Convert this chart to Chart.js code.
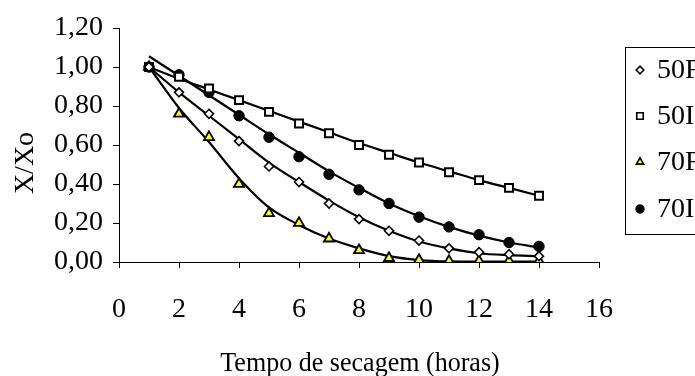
<!DOCTYPE html>
<html><head><meta charset="utf-8">
<script src="https://cdn.jsdelivr.net/npm/chart.js@4"></script>
<style>html,body{margin:0;padding:0;background:#fff;overflow:hidden}canvas{display:block}</style>
</head><body>
<canvas id="c" width="695" height="376"></canvas>
<script>
// ---- data ----
const hours = [1,2,3,4,5,6,7,8,9,10,11,12,13,14];
const s50F = [1.00,0.87,0.76,0.62,0.49,0.41,0.30,0.22,0.16,0.11,0.07,0.05,0.04,0.03];
const s50I = [1.00,0.95,0.89,0.83,0.77,0.71,0.66,0.60,0.55,0.51,0.46,0.42,0.38,0.34];
const s70F = [1.00,0.76,0.64,0.40,0.25,0.20,0.12,0.06,0.02,0.01,0.005,0.005,0.005,0.005];
const s70I = [1.00,0.96,0.87,0.75,0.64,0.54,0.45,0.37,0.30,0.23,0.18,0.14,0.10,0.08];
// fitted curves
const t50F = [1.00,0.87,0.75,0.63,0.51,0.41,0.315,0.23,0.16,0.105,0.07,0.045,0.035,0.03];
const t50I = [1.00,0.94,0.885,0.83,0.775,0.72,0.665,0.61,0.56,0.51,0.465,0.42,0.38,0.34];
const t70F = [1.00,0.79,0.615,0.43,0.28,0.19,0.12,0.07,0.03,0.01,0.003,0.002,0.002,0.002];
const t70I = [1.055,0.955,0.855,0.755,0.655,0.56,0.465,0.38,0.30,0.235,0.18,0.135,0.10,0.075];
const seriesNames = ['50F','50I','70F','70I'];
const xTickLabels = ['0','2','4','6','8','10','12','14','16'];
const yTickLabels = ['0,00','0,20','0,40','0,60','0,80','1,00','1,20'];
const xTitle = 'Tempo de secagem (horas)';
const yTitle = 'X/Xo';

const FONT = "'Liberation Serif','Times New Roman',serif";
const pts = arr => hours.map((h,i)=>({x:h,y:arr[i]}));

const markerStyles = [
  {pointStyle:'rectRot', radius:4.5, bg:'#fff', bw:1.6},
  {pointStyle:'rect', radius:5.6, bg:'#fff', bw:2},
  {pointStyle:'triangle', radius:5.8, bg:'#ffff00', bw:1.8},
  {pointStyle:'circle', radius:5.2, bg:'#000', bw:1}
];
const seriesData = [s50F,s50I,s70F,s70I];
const trendData = [t50F,t50I,t70F,t70I];

const datasets = [];
trendData.forEach((t,i)=>{
  datasets.push({type:'line', label:'trend'+seriesNames[i], data:pts(t), showLine:true,
    borderColor:'#000', borderWidth:2.2, pointRadius:0, fill:false,
    cubicInterpolationMode:'monotone', order:2});
});
seriesData.forEach((s,i)=>{
  const m = markerStyles[i];
  datasets.push({type:'scatter', label:seriesNames[i], data:pts(s),
    pointStyle:m.pointStyle, pointRadius:m.radius, pointHoverRadius:m.radius,
    backgroundColor:m.bg, borderColor:'#000', pointBorderWidth:m.bw, borderWidth:m.bw, order:1});
});

function drawMarker(ctx, style, x, y, r){
  ctx.beginPath();
  if(style==='rectRot'){ctx.moveTo(x-r,y);ctx.lineTo(x,y-r);ctx.lineTo(x+r,y);ctx.lineTo(x,y+r);ctx.closePath();}
  else if(style==='rect'){const s=r*Math.SQRT1_2;ctx.rect(x-s,y-s,2*s,2*s);}
  else if(style==='triangle'){ctx.moveTo(x-r*0.866,y+r*0.5);ctx.lineTo(x,y-r);ctx.lineTo(x+r*0.866,y+r*0.5);ctx.closePath();}
  else {ctx.arc(x,y,r,0,Math.PI*2);}
  ctx.fill(); ctx.stroke();
}

const extras = {
  id:'extras',
  afterDraw(chart){
    const ctx = chart.ctx;
    ctx.save();
    // axis titles
    ctx.fillStyle='#000';
    ctx.font = "28px "+FONT;
    ctx.textAlign='center'; ctx.textBaseline='alphabetic';
    ctx.save();
    ctx.translate(360,371); ctx.scale(0.93,1);
    ctx.fillText(xTitle, 0, 0);
    ctx.restore();
    ctx.save();
    ctx.translate(33,163); ctx.rotate(-Math.PI/2);
    ctx.fillText(yTitle, 0, 0);
    ctx.restore();
    // legend
    ctx.strokeStyle='#000'; ctx.lineWidth=1;
    ctx.strokeRect(625.5,47.5,120,187);
    const ys=[70,116,162,209];
    const lr=[3.8,4.6,4.2,4.2];
    seriesNames.forEach((n,i)=>{
      const m=markerStyles[i];
      ctx.fillStyle=m.bg; ctx.strokeStyle='#000'; ctx.lineWidth=i===3?1:1.6;
      drawMarker(ctx,m.pointStyle,640,ys[i],lr[i]);
      ctx.fillStyle='#000';
      ctx.font="28px "+FONT; ctx.textAlign='left'; ctx.textBaseline='middle';
      ctx.fillText(n,657,ys[i]+1);
    });
    ctx.restore();
  }
};

new Chart(document.getElementById('c'), {
  data:{datasets},
  options:{
    responsive:false, animation:false, devicePixelRatio:1,
    layout:{padding:{left:0,right:96,top:28,bottom:0}},
    plugins:{legend:{display:false}, tooltip:{enabled:false}},
    scales:{
      x:{type:'linear', min:0, max:16,
        ticks:{stepSize:2, color:'#000', font:{family:FONT,size:28}, padding:25,
          callback:(v)=>xTickLabels[Math.round(v/2)]},
        grid:{drawOnChartArea:false, drawTicks:true, tickLength:6, color:'#000', lineWidth:1},
        border:{display:true,color:'#000',width:1},
        afterFit:(s)=>{s.height=114;}
      },
      y:{type:'linear', min:0, max:1.2,
        ticks:{stepSize:0.2, color:'#000', font:{family:FONT,size:28}, padding:10,
          callback:(v)=>yTickLabels[Math.round(v/0.2)]},
        grid:{drawOnChartArea:false, drawTicks:true, tickLength:6, color:'#000', lineWidth:1},
        border:{display:true,color:'#000',width:1},
        afterFit:(s)=>{s.width=119;}
      }
    }
  },
  plugins:[extras]
});
</script>
</body></html>
